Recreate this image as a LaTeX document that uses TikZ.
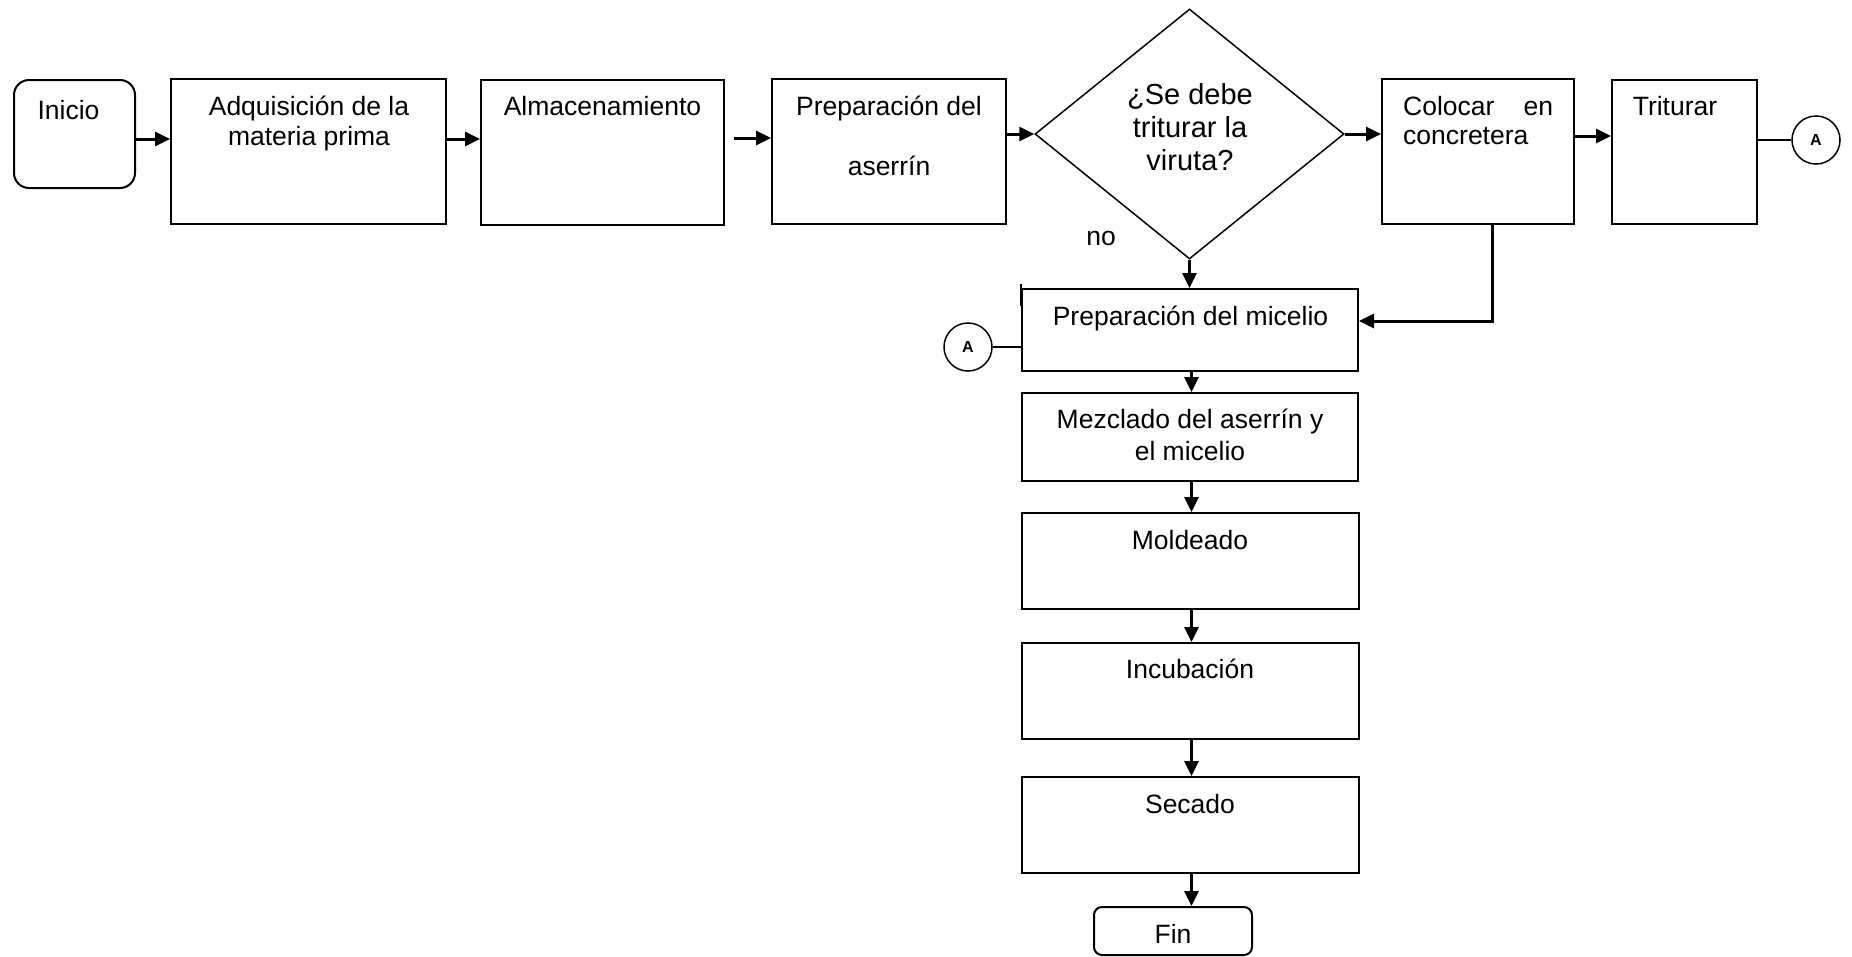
\documentclass[tikz,border=0pt]{standalone}
\usepackage{fontspec}
\setmainfont{Liberation Sans}
\usetikzlibrary{arrows.meta,shapes.geometric}
\begin{document}
\begin{tikzpicture}[x=1pt,y=-1pt,
  box/.style={draw,line width=2pt,rectangle,inner sep=0pt},
  term/.style={box,rounded corners=15pt},
  decision/.style={draw,line width=1.5pt,diamond,inner sep=0pt},
  conn/.style={draw,line width=1.5pt,circle,minimum size=48pt,inner sep=0pt,
    font=\fontsize{16}{19}\selectfont\bfseries},
  txt/.style={inner sep=0pt,anchor=base,font=\fontsize{26.5}{31}\selectfont},
  dtxt/.style={txt,font=\fontsize{29}{33}\selectfont},
  arr/.style={line width=3pt,-{Triangle[length=15pt,width=14pt]}},
  link/.style={line width=2pt},
]
\useasboundingbox (0,0) rectangle (1852,956);

% top row
\node[term, minimum width=121pt, minimum height=108pt] (inicio) at (74.5,134) {};
\node[txt] (tinicio) at (68.5,119) {Inicio};

\node[box, minimum width=275pt, minimum height=145pt] (adq) at (308.5,151.5) {};
\node[txt] (tadq1) at (309,115) {Adquisición de la};
\node[txt] (tadq2) at (309,145) {materia prima};

\node[box, minimum width=243pt, minimum height=145pt] (alm) at (602.5,152.5) {};
\node[txt] (talm) at (602.5,115) {Almacenamiento};

\node[box, minimum width=234pt, minimum height=145pt] (prep) at (889,151.5) {};
\node[txt] (tprep1) at (889,115) {Preparación del};
\node[txt] (tprep2) at (889,175) {aserrín};

\node[decision, minimum width=309pt, minimum height=250pt] (dia) at (1189.5,134) {};
\node[dtxt] (tdia1) at (1190,104) {¿Se debe};
\node[dtxt] (tdia2) at (1190,137) {triturar la};
\node[dtxt] (tdia3) at (1190,170) {viruta?};
\node[txt] (tno) at (1101,245) {no};

\node[box, minimum width=192pt, minimum height=145pt] (col) at (1478,151.5) {};
\node[txt, anchor=base west] (tcol1) at (1403,115) {\hbox to 150pt{Colocar\hfill en}};
\node[txt, anchor=base west] (tcol2) at (1403,144) {concretera};

\node[box, minimum width=145pt, minimum height=144pt] (trit) at (1684.5,152) {};
\node[txt] (ttrit) at (1675,115) {Triturar};

\node[conn] (a1) at (1816,140) {A};

% vertical column
\node[box, minimum width=336pt, minimum height=82pt] (mic) at (1190,330) {};
\node[txt] (tmic) at (1190.5,325) {Preparación del micelio};
\draw[line width=2.5pt] ([yshift=4pt]mic.north west) -- ([yshift=-18pt]mic.north west);

\node[conn] (a2) at (968,347) {A};

\node[box, minimum width=336pt, minimum height=88pt] (mez) at (1190,437) {};
\node[txt] (tmez1) at (1190,428) {Mezclado del aserrín y};
\node[txt] (tmez2) at (1190,460) {el micelio};

\node[box, minimum width=337pt, minimum height=96pt] (mol) at (1190.5,561) {};
\node[txt] (tmol) at (1190,549) {Moldeado};

\node[box, minimum width=337pt, minimum height=96pt] (inc) at (1190.5,691) {};
\node[txt] (tinc) at (1190,678) {Incubación};

\node[box, minimum width=337pt, minimum height=96pt] (sec) at (1190.5,825) {};
\node[txt] (tsec) at (1190,813) {Secado};

\node[box, rounded corners=8pt, minimum width=158pt, minimum height=48pt] (fin) at (1173,931) {};
\node[txt] (tfin) at (1173,943) {Fin};

% connectors
\coordinate (r1) at (0,139);
\coordinate (r3) at (0,136);
\coordinate (almout) at (734,138);
\coordinate (cdrop) at (1492,321);
\coordinate (vx) at (1191.5,0);

\draw[arr] (inicio.east |- r1) -- (adq.west |- r1);
\draw[arr] (adq.east |- r1) -- (alm.west |- r1);
\draw[arr] (almout) -- (prep.west |- almout);
\draw[arr] (prep.east |- dia.west) -- (dia.west);
\draw[arr] (dia.east) -- (col.west |- dia.east);
\draw[arr] (col.east |- r3) -- (trit.west |- r3);
\draw[link] (trit.east |- a1.west) -- (a1.west);

\draw[arr] (dia.south) -- (dia.south |- mic.north);
\draw[arr] (col.south -| cdrop) -- (cdrop) -- (mic.east |- cdrop);
\draw[line width=1.5pt] (a2.east) -- (mic.west |- a2.east);

\draw[arr] (mic.south -| vx) -- (mez.north -| vx);
\draw[arr] (mez.south -| vx) -- (mol.north -| vx);
\draw[arr] (mol.south -| vx) -- (inc.north -| vx);
\draw[arr] (inc.south -| vx) -- (sec.north -| vx);
\draw[arr] (sec.south -| vx) -- (fin.north -| vx);
\end{tikzpicture}
\end{document}
